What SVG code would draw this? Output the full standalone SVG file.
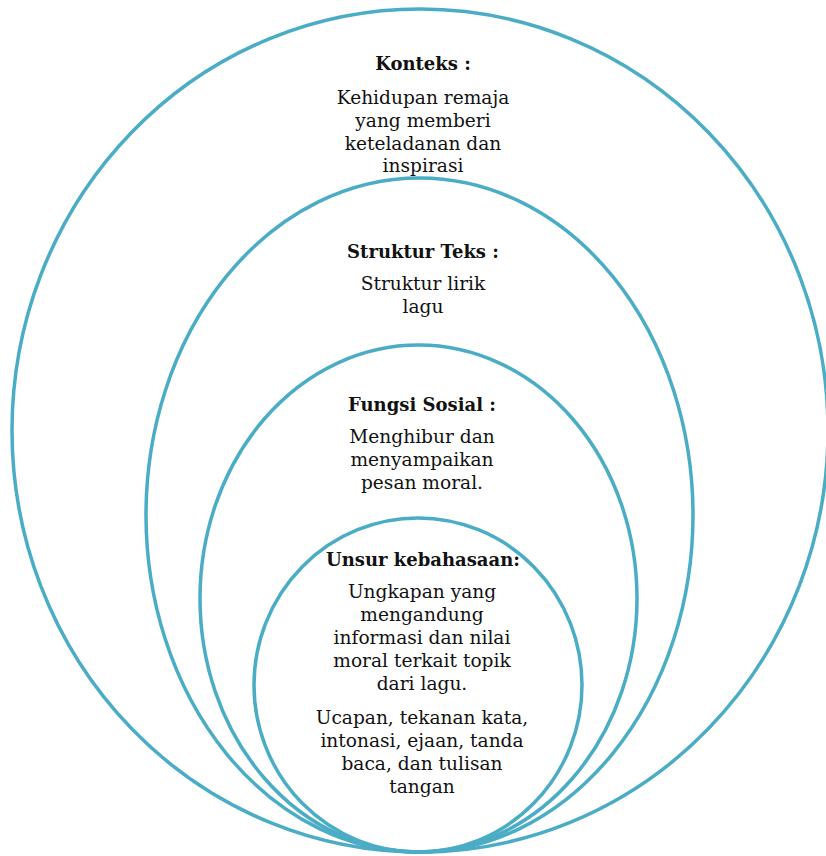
<svg xmlns="http://www.w3.org/2000/svg" width="826" height="856" viewBox="0 0 826 856">
<style>
.ring{fill:none;stroke:#4BACC6;stroke-width:3.5}
text{font-family:"DejaVu Serif","Liberation Serif",serif;font-size:18.6px;fill:#111;text-anchor:middle}
.h{font-weight:bold;font-size:18px}
</style>
<rect width="826" height="856" fill="#fff"/>
<g id="konteks">
<ellipse class="ring" cx="420" cy="430.5" rx="408" ry="421.5"/>
<text class="h" x="423" y="70">Konteks :</text>
<text x="423" y="104">Kehidupan remaja</text>
<text x="423" y="127">yang memberi</text>
<text x="423" y="150">keteladanan dan</text>
<text x="423" y="172">inspirasi</text>
</g>
<g id="struktur">
<ellipse class="ring" cx="419.5" cy="515" rx="273.5" ry="337"/>
<text class="h" x="423" y="258">Struktur Teks :</text>
<text x="423" y="290">Struktur lirik</text>
<text x="423" y="313">lagu</text>
</g>
<g id="fungsi">
<ellipse class="ring" cx="418.5" cy="598.5" rx="218.5" ry="253.5"/>
<text class="h" x="422" y="411">Fungsi Sosial :</text>
<text x="422" y="443">Menghibur dan</text>
<text x="422" y="466">menyampaikan</text>
<text x="422" y="489">pesan moral.</text>
</g>
<g id="unsur">
<ellipse class="ring" cx="418" cy="685" rx="164" ry="167"/>
<text class="h" x="423" y="566">Unsur kebahasaan:</text>
<text x="422" y="598">Ungkapan yang</text>
<text x="422" y="621">mengandung</text>
<text x="422" y="644">informasi dan nilai</text>
<text x="422" y="667">moral terkait topik</text>
<text x="422" y="690">dari lagu.</text>
<text x="422" y="724">Ucapan, tekanan kata,</text>
<text x="422" y="747">intonasi, ejaan, tanda</text>
<text x="422" y="770">baca, dan tulisan</text>
<text x="422" y="793">tangan</text>
</g>
<g id="connectors"/>
</svg>
